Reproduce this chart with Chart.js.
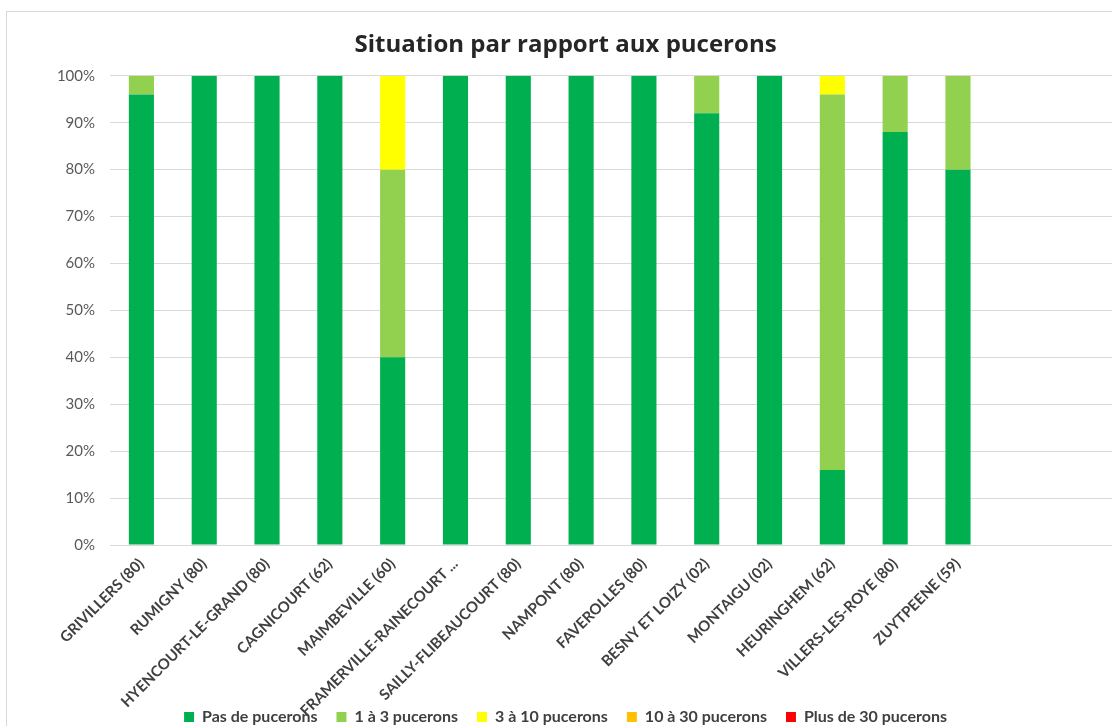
<!DOCTYPE html>
<html>
<head>
<meta charset="utf-8">
<script src="https://cdn.jsdelivr.net/npm/chart.js@4/dist/chart.umd.min.js"></script>
<style>
  html, body { margin: 0; padding: 0; background: #fff; overflow: hidden; }
  body { width: 1112px; height: 726px; position: relative; }
  .frame { position: absolute; left: 6px; top: 11px; width: 1200px; height: 800px; border: 1px solid #d9d9d9; }
  .wrap { position: absolute; left: 0; top: 0; width: 1125px; height: 726px; }
</style>
</head>
<body>
<div class="frame"></div>
<div class="wrap"><canvas id="chart"></canvas></div>
<script>
// sites (two empty slots at the end, like the original sheet)
const sites = ["GRIVILLERS (80)", "RUMIGNY (80)", "HYENCOURT-LE-GRAND (80)", "CAGNICOURT (62)",
  "MAIMBEVILLE (60)", "FRAMERVILLE-RAINECOURT ...", "SAILLY-FLIBEAUCOURT (80)", "NAMPONT (80)",
  "FAVEROLLES (80)", "BESNY ET LOIZY (02)", "MONTAIGU (02)", "HEURINGHEM (62)",
  "VILLERS-LES-ROYE (80)", "ZUYTPEENE (59)", "", ""];

// % of plants in each class
const pasDePucerons = [96, 100, 100, 100, 40, 100, 100, 100, 100, 92, 100, 16, 88, 80, null, null];
const unATrois      = [4, 0, 0, 0, 40, 0, 0, 0, 0, 8, 0, 80, 12, 20, null, null];
const troisADix     = [0, 0, 0, 0, 20, 0, 0, 0, 0, 0, 0, 4, 0, 0, null, null];
const dixATrente    = [0, 0, 0, 0, 0, 0, 0, 0, 0, 0, 0, 0, 0, 0, null, null];
const plusDeTrente  = [0, 0, 0, 0, 0, 0, 0, 0, 0, 0, 0, 0, 0, 0, null, null];

const yTicks = [0, 10, 20, 30, 40, 50, 60, 70, 80, 90, 100];

const ctx = document.getElementById("chart").getContext("2d");

new Chart(ctx, {
  type: "bar",
  data: {
    labels: sites,
    datasets: [
      { label: "Pas de pucerons", data: pasDePucerons, backgroundColor: "#00b050" },
      { label: "1 à 3 pucerons", data: unATrois, backgroundColor: "#92d050" },
      { label: "3 à 10 pucerons", data: troisADix, backgroundColor: "#ffff00" },
      { label: "10 à 30 pucerons", data: dixATrente, backgroundColor: "#ffc000" },
      { label: "Plus de 30 pucerons", data: plusDeTrente, backgroundColor: "#ff0000" }
    ]
  },
  options: {
    responsive: true,
    maintainAspectRatio: false,
    animation: false,
    layout: { padding: { left: 16, right: 10, top: 0, bottom: -9 } },
    datasets: { bar: { barPercentage: 0.4, categoryPercentage: 1 } },
    plugins: {
      title: {
        display: true,
        text: "Situation par rapport aux pucerons",
        color: "#262626",
        font: { family: "Open Sans", size: 24, weight: "bold" },
        padding: { top: 31, bottom: 16 }
      },
      legend: {
        position: "bottom",
        labels: {
          boxWidth: 10,
          boxHeight: 10,
          padding: 19,
          color: "#404040",
          font: { family: "Lato", size: 16, weight: "bold" }
        }
      },
      tooltip: { enabled: false }
    },
    scales: {
      x: {
        stacked: true,
        grid: { display: false, drawTicks: false },
        border: { display: false },
        ticks: {
          autoSkip: false,
          minRotation: 45,
          maxRotation: 45,
          padding: 10,
          color: "#404040",
          font: { family: "Lato", size: 15, weight: "bold" }
        },
        afterFit: (scale) => {
          scale.height = 145;
          // long names run down past the axis box, next to the legend, like in Excel
          scale._computeLabelArea = () => undefined;
        }
      },
      y: {
        stacked: true,
        min: 0,
        max: 100,
        afterBuildTicks: (scale) => { scale.ticks = yTicks.map(v => ({ value: v })); },
        grid: { color: "#d9d9d9", drawTicks: false },
        border: { display: false },
        ticks: {
          padding: 15,
          color: "#595959",
          font: { family: "Lato", size: 15 },
          callback: (v) => v + "%"
        },
        afterFit: (scale) => { scale.width = 94; }
      }
    }
  }
});
</script>
</body>
</html>
